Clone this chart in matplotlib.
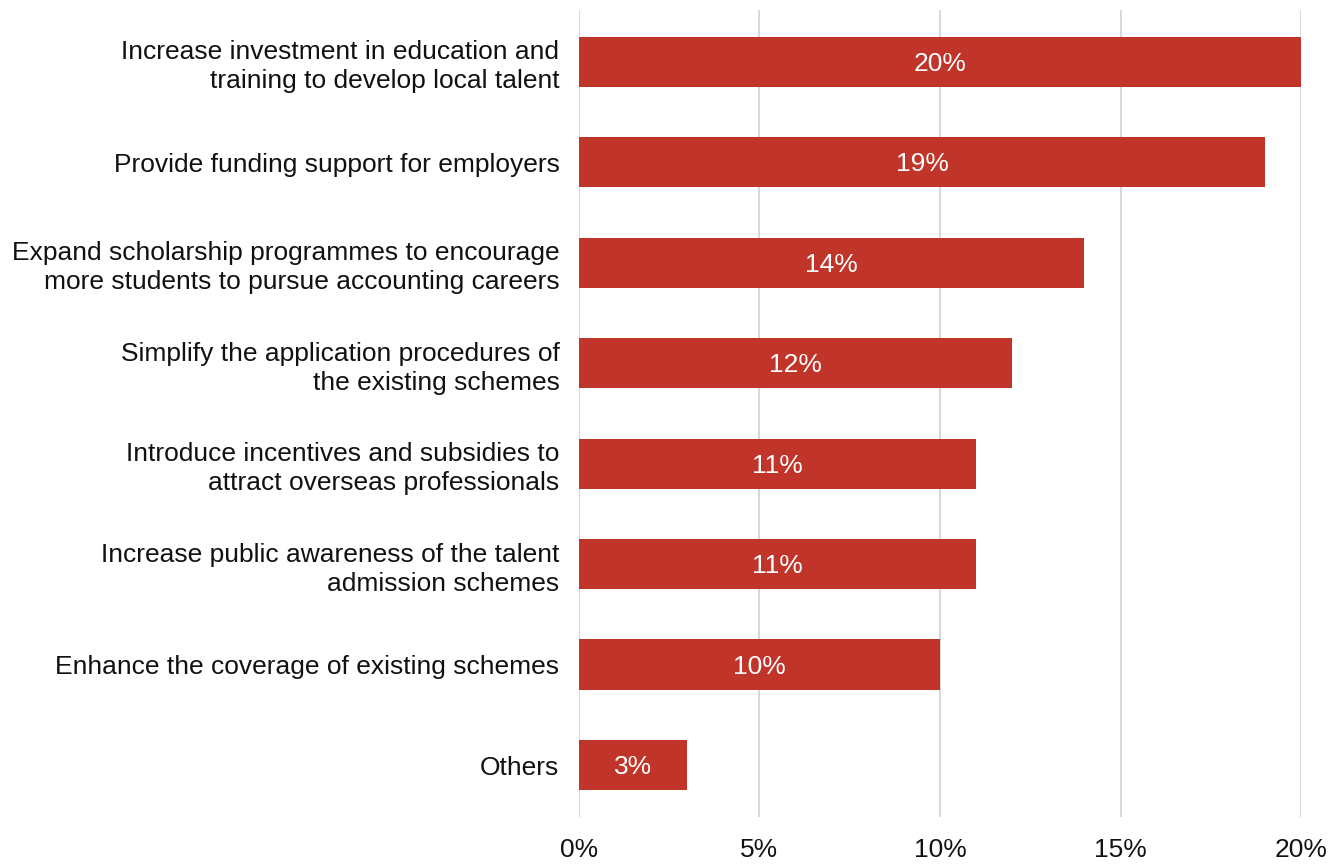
import matplotlib.pyplot as plt

# survey answers, top to bottom
labels = [
    "Increase investment in education and\ntraining to develop local talent",
    "Provide funding support for employers",
    "Expand scholarship programmes to encourage\nmore students to pursue accounting careers",
    "Simplify the application procedures of\nthe existing schemes",
    "Introduce incentives and subsidies to\nattract overseas professionals",
    "Increase public awareness of the talent\nadmission schemes",
    "Enhance the coverage of existing schemes",
    "Others",
]
values = [20, 19, 14, 12, 11, 11, 10, 3]
xticks = [0, 5, 10, 15, 20]

plt.rcParams['font.family'] = ['Liberation Sans', 'DejaVu Sans']
fs = 19

fig = plt.figure(figsize=(13.4, 8.64), dpi=100)
ax = fig.add_axes([0.432, 0.054, 0.539, 0.935])

ypos = list(range(len(values)))
ax.barh(ypos, values, height=0.5, color='#C0342A', zorder=3)

for y, v in zip(ypos, values):
    ax.text(v / 2, y + 0.02, f"{v}%", ha='center', va='center', color='white', fontsize=fs, zorder=4)

ax.set_ylim(len(values) - 0.48, -0.52)
ax.set_xlim(0, 20)
ax.set_yticks(ypos)
ax.set_yticklabels(labels, fontsize=fs, color='#111111', linespacing=1.26)
ax.set_xticks(xticks)
ax.set_xticklabels([f"{t}%" for t in xticks], fontsize=fs, color='#111111')

ax.grid(axis='x', color='#D9D9D9', linewidth=1.5, zorder=0)
for s in ax.spines.values():
    s.set_visible(False)
ax.tick_params(axis='both', length=0)
ax.tick_params(axis='y', pad=14)
ax.tick_params(axis='x', pad=15)

fig.savefig('out.png', dpi=100)
